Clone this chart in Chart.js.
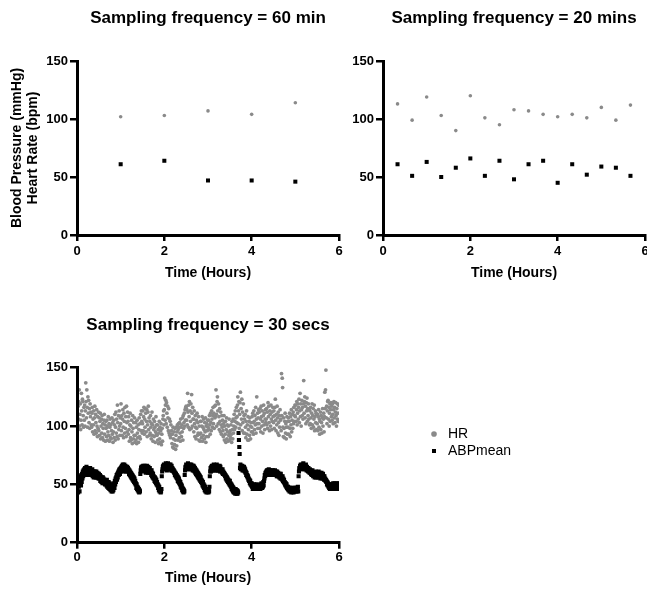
<!DOCTYPE html>
<html>
<head>
<meta charset="utf-8">
<title>Sampling frequency comparison</title>
<script src="https://cdn.jsdelivr.net/npm/chart.js@4.4.1/dist/chart.umd.min.js"></script>
<style>
  html, body { margin: 0; padding: 0; background: #fff; overflow: hidden; width: 647px; height: 589px; }
  canvas { position: absolute; }
</style>
</head>
<body>
<canvas id="c60" width="350" height="290" style="left:0;top:0"></canvas>
<canvas id="c20" width="350" height="290" style="left:306px;top:0"></canvas>
<canvas id="c30s" width="350" height="289" style="left:0;top:300px"></canvas>
<canvas id="legend" width="180" height="50" style="left:424px;top:424px"></canvas>
<script>
// ---- Hourly samples (60 min) ----
const hours60 = [0, 1, 2, 3, 4, 5];
const hr60 = [108, 102, 103, 107, 104, 114];
const abp60 = [55, 61, 64, 47, 47, 46];

// ---- 20 min samples ----
const hours20 = [0, 0.333, 0.667, 1, 1.333, 1.667, 2, 2.333, 2.667, 3, 3.333, 3.667, 4, 4.333, 4.667, 5, 5.333, 5.667];
const hr20 = [108, 113, 99, 119, 103, 90, 120, 101, 95, 108, 107, 104, 102, 104, 101, 110, 99, 112];
const abp20 = [55, 61, 51, 63, 50, 58, 66, 51, 64, 48, 61, 64, 45, 61, 52, 59, 58, 51];

// ---- 30 s samples: one row = 10 minutes (20 readings) ----
const SAMPLE_STEP_HOURS = 0.5 / 60;
const hr30s = [
  102,114,98,117,106,121,131,100,110,119,97,105,128,113,101,123,121,109,99,116,
  105,118,100,113,137,121,107,131,116,99,125,111,122,103,115,98,119,108,112,101,
  99,111,116,95,106,101,113,93,107,117,96,110,103,94,114,100,91,108,98,112,
  96,107,92,104,111,89,100,106,94,109,90,102,98,88,105,110,93,101,87,104,
  98,91,105,100,88,95,108,92,102,87,99,106,90,101,89,96,107,93,103,86,
  95,105,90,101,110,88,99,112,94,106,91,118,103,89,109,97,113,100,92,107,
  102,119,96,109,92,106,114,99,90,111,104,94,116,98,108,91,117,103,95,112,
  104,93,108,97,87,101,111,90,100,88,105,95,85,109,98,89,103,92,107,86,
  92,103,88,99,85,105,94,90,101,86,97,107,91,102,89,110,96,113,104,94,
  102,113,96,108,116,93,106,99,115,111,95,104,114,91,101,112,117,97,107,92,
  104,94,109,99,89,102,112,92,101,87,106,97,91,104,99,86,95,108,93,101,
  92,101,88,97,85,94,104,89,99,86,96,102,84,93,98,87,106,109,113,101,
  114,124,105,118,122,102,120,111,99,117,107,96,115,94,106,92,104,90,101,93,
  96,85,93,82,99,89,81,95,84,98,88,80,92,99,83,95,101,88,97,102,
  99,90,103,94,87,106,99,91,101,95,107,88,109,98,103,111,100,114,105,116,
  117,105,114,101,128,112,99,118,108,121,97,113,104,119,98,127,111,100,116,106,
  106,95,113,102,91,109,99,89,105,98,111,92,103,94,108,88,100,93,87,104,
  94,104,90,100,108,87,99,92,106,97,89,103,95,107,86,100,91,102,96,105,
  99,91,105,97,109,101,93,111,103,96,113,106,99,109,116,102,111,98,117,107,
  108,118,131,110,100,121,125,113,102,119,108,97,115,104,95,112,101,93,109,99,
  105,96,91,102,109,88,100,93,104,86,97,107,89,101,95,87,100,92,106,94,
  88,96,90,101,93,86,104,97,89,106,94,100,110,97,104,113,99,107,116,103,
  108,118,125,102,113,121,98,110,120,129,101,115,106,123,96,112,103,119,94,109,
  106,94,110,99,90,104,113,93,101,88,108,97,88,104,92,107,100,89,103,95,
  99,108,95,111,103,93,113,104,97,109,101,116,94,106,125,102,111,98,107,114,
  102,112,98,115,106,95,117,108,100,113,104,94,109,118,101,111,97,106,114,103,
  106,115,101,112,98,120,108,117,103,96,113,110,100,118,106,97,112,104,116,108,
  103,113,98,109,116,123,105,96,110,101,117,107,94,112,103,92,109,99,114,105,
  106,96,145,109,141,133,99,91,107,98,90,104,111,94,102,89,99,108,93,104,
  99,107,93,104,111,98,91,108,101,114,95,105,110,98,112,102,116,104,109,118,
  108,118,104,114,121,101,111,119,106,116,123,103,113,128,108,119,100,114,122,109,
  116,106,119,139,111,121,125,107,117,102,120,113,124,104,115,109,119,106,114,101,
  113,102,116,107,98,111,119,101,109,115,99,106,118,96,108,113,103,111,97,110,
  102,110,96,108,114,99,106,93,104,112,97,109,103,94,107,115,100,106,111,95,
  108,129,115,131,148,107,117,102,113,121,122,106,116,100,111,119,104,114,120,108,
  117,105,119,110,102,114,121,107,116,103,112,120,109,100,115,106,119,111,104,118
];
const abp30s = [
  50,45,54,43,56,48,53,44,57,50,55,49,58,52,59,55,61,57,62,59,
  63,59,64,58,62,60,65,61,58,62,64,60,63,58,62,60,64,61,58,62,
  62,58,63,57,61,59,56,61,60,57,61,56,59,61,56,58,60,56,59,55,
  59,55,57,58,53,57,55,52,56,54,51,56,53,55,51,53,54,50,52,53,
  53,49,54,48,52,50,47,52,49,46,51,48,45,50,47,44,49,46,44,47,
  45,49,51,47,53,50,55,52,56,58,54,59,56,60,61,58,62,63,59,63,
  64,61,65,62,66,63,67,61,65,63,67,64,62,66,61,65,63,61,65,62,
  64,61,63,59,62,58,61,57,60,56,59,55,58,54,57,53,56,52,55,51,
  53,50,51,47,50,46,48,45,47,44,46,43,45,44,59,62,64,65,62,65,
  65,62,66,63,61,65,66,62,64,60,65,62,66,63,61,60,65,62,64,60,
  64,60,62,60,58,62,57,60,56,59,55,57,55,53,56,52,55,51,54,50,
  52,49,50,47,49,45,48,44,46,45,43,44,46,57,61,63,65,66,63,67,
  66,64,65,63,68,65,66,62,67,64,68,65,63,66,67,64,63,67,64,62,
  66,62,64,62,63,61,62,60,61,58,60,57,59,56,58,55,57,53,56,52,
  55,51,53,50,52,48,50,47,49,45,47,44,46,43,45,44,58,62,65,64,
  67,64,65,63,66,68,65,63,66,64,67,65,63,66,67,63,66,64,62,66,
  66,62,65,61,64,60,63,59,62,58,61,57,60,56,59,55,58,54,57,53,
  56,52,54,51,53,49,52,48,50,47,49,45,48,44,46,45,43,44,46,45,
  44,43,46,44,48,57,61,64,61,65,62,66,64,62,66,63,67,63,65,62,
  65,63,64,62,67,63,66,62,65,64,62,65,66,61,65,62,63,61,62,60,
  63,59,61,59,60,58,59,57,58,55,57,54,56,53,55,52,54,51,53,50,
  53,49,51,48,50,46,49,45,48,44,47,43,46,43,45,42,46,43,45,42,
  45,42,44,43,94,88,82,76,64,67,63,66,65,63,66,62,65,64,62,65,
  64,61,63,60,61,58,60,57,58,56,57,54,55,53,54,51,53,50,51,49,
  51,48,50,46,49,46,48,50,47,46,49,48,46,49,50,47,46,49,48,46,
  49,46,48,47,46,50,47,51,48,47,50,48,52,49,53,55,58,57,60,59,
  61,58,62,59,58,62,60,63,59,58,62,59,61,58,61,62,60,59,58,62,
  61,59,60,58,62,59,58,61,60,57,61,57,59,60,57,58,56,59,58,55,
  59,55,57,56,54,57,53,55,52,54,51,52,50,49,51,48,50,47,48,46,
  48,45,46,47,44,46,47,44,46,43,46,44,47,45,44,43,46,44,47,45,
  46,44,47,45,44,47,46,48,44,57,61,64,63,66,64,67,65,63,66,64,
  67,64,68,65,63,66,64,63,66,67,63,62,65,64,62,61,64,62,61,60,
  63,60,62,59,61,58,60,62,58,57,60,58,59,56,59,57,61,56,58,60,
  58,60,56,59,61,58,56,59,60,55,58,56,60,58,55,57,59,55,57,54,
  57,54,55,53,54,52,53,50,52,49,51,48,50,47,49,46,48,50,46,49,
  48,50,46,48,51,49,46,48,51,49,47,46,50,48,51,49,46,48,50,51
];
const hours30s = hr30s.map((_, i) => i * SAMPLE_STEP_HOURS);

const xTicks = [0, 2, 4, 6];
const yTicks = [0, 50, 100, 150];
const HR_COLOR = '#8a8a8a';
const FONT = '"Liberation Sans", Arial, Helvetica, sans-serif';

Chart.defaults.font.family = FONT;
Chart.defaults.color = '#000';

function toPoints(times, values) {
  return times.map((t, i) => ({ x: t, y: values[i] }));
}

function axisStyle(tickLength, tickPad) {
  return {
    ticks: { font: { size: 13, weight: 'bold' }, color: '#000', padding: tickPad, maxRotation: 0, autoSkip: false },
    grid: { drawOnChartArea: false, drawTicks: true, tickLength: tickLength, color: '#000', lineWidth: 2.5 },
    border: { display: true, color: '#000', width: 3, z: 1 }
  };
}

function makePanel(id, cfg) {
  const xs = axisStyle(6, cfg.xTickPad);
  const ys = axisStyle(7, 2);
  return new Chart(document.getElementById(id), {
    type: 'scatter',
    data: {
      datasets: [
        { label: 'HR', data: toPoints(cfg.times, cfg.hr), pointStyle: 'circle',
          pointRadius: cfg.hrRadius, pointHoverRadius: cfg.hrRadius,
          pointBackgroundColor: HR_COLOR, pointBorderWidth: 0 },
        { label: 'ABPmean', data: toPoints(cfg.times, cfg.abp), pointStyle: 'rect',
          pointRadius: cfg.abpRadius, pointHoverRadius: cfg.abpRadius,
          pointBackgroundColor: '#000', pointBorderWidth: 0 }
      ]
    },
    options: {
      responsive: false,
      animation: false,
      events: [],
      layout: { padding: { left: 0, right: 11, top: 0, bottom: 0 } },
      plugins: {
        legend: { display: false },
        tooltip: { enabled: false },
        title: {
          display: true, text: cfg.title, fullSize: false,
          font: { size: 17, weight: 'bold' }, color: '#000', padding: cfg.titlePad
        }
      },
      scales: {
        x: {
          type: 'linear', min: 0, max: 6,
          afterBuildTicks: s => { s.ticks = xTicks.map(v => ({ value: v })); },
          afterFit: s => { s.height = cfg.xHeight; },
          ticks: xs.ticks, grid: xs.grid, border: xs.border,
          title: { display: true, text: 'Time (Hours)', font: { size: 14, weight: 'bold' }, color: '#000',
                   padding: { top: 0, bottom: cfg.xTitlePadBottom } }
        },
        y: {
          type: 'linear', min: 0, max: 150,
          afterBuildTicks: s => { s.ticks = yTicks.map(v => ({ value: v })); },
          afterFit: s => { s.width = 77; },
          ticks: ys.ticks, grid: ys.grid, border: ys.border,
          title: cfg.yTitle
            ? { display: true, text: cfg.yTitle, font: { size: 14, weight: 'bold', lineHeight: 1.15 }, color: '#000',
                padding: { top: 8.6, bottom: 0 } }
            : { display: false }
        }
      }
    }
  });
}

makePanel('c60', {
  title: 'Sampling frequency = 60 min', times: hours60, hr: hr60, abp: abp60,
  hrRadius: 1.8, abpRadius: 2.85, yTitle: ['Blood Pressure (mmHg)', 'Heart Rate (bpm)'],
  titlePad: { top: 8, bottom: 32.6 }, xHeight: 55, xTitlePadBottom: 8.6, xTickPad: 3
});

makePanel('c20', {
  title: 'Sampling frequency = 20 mins', times: hours20, hr: hr20, abp: abp20,
  hrRadius: 1.8, abpRadius: 2.85, yTitle: null,
  titlePad: { top: 8, bottom: 32.6 }, xHeight: 55, xTitlePadBottom: 8.6, xTickPad: 3
});

makePanel('c30s', {
  title: 'Sampling frequency = 30 secs', times: hours30s, hr: hr30s, abp: abp30s,
  hrRadius: 1.9, abpRadius: 2.9, yTitle: null,
  titlePad: { top: 14.8, bottom: 32.5 }, xHeight: 46.3, xTitlePadBottom: 2.3, xTickPad: 1
});

// Shared key for all three panels
new Chart(document.getElementById('legend'), {
  type: 'scatter',
  data: {
    datasets: [
      { label: 'HR', data: [], pointStyle: 'circle', pointBackgroundColor: HR_COLOR, pointBorderWidth: 0 },
      { label: 'ABPmean', data: [], pointStyle: 'rect', pointBackgroundColor: '#000', pointBorderWidth: 0 }
    ]
  },
  options: {
    responsive: false,
    animation: false,
    events: [],
    layout: { padding: 0 },
    scales: { x: { display: false }, y: { display: false } },
    plugins: {
      tooltip: { enabled: false },
      title: { display: false },
      legend: {
        display: true, position: 'left', align: 'start',
        labels: { usePointStyle: true, boxWidth: 14, boxHeight: 4, padding: 3, font: { size: 14 }, color: '#000' }
      }
    }
  }
});
</script>
</body>
</html>
